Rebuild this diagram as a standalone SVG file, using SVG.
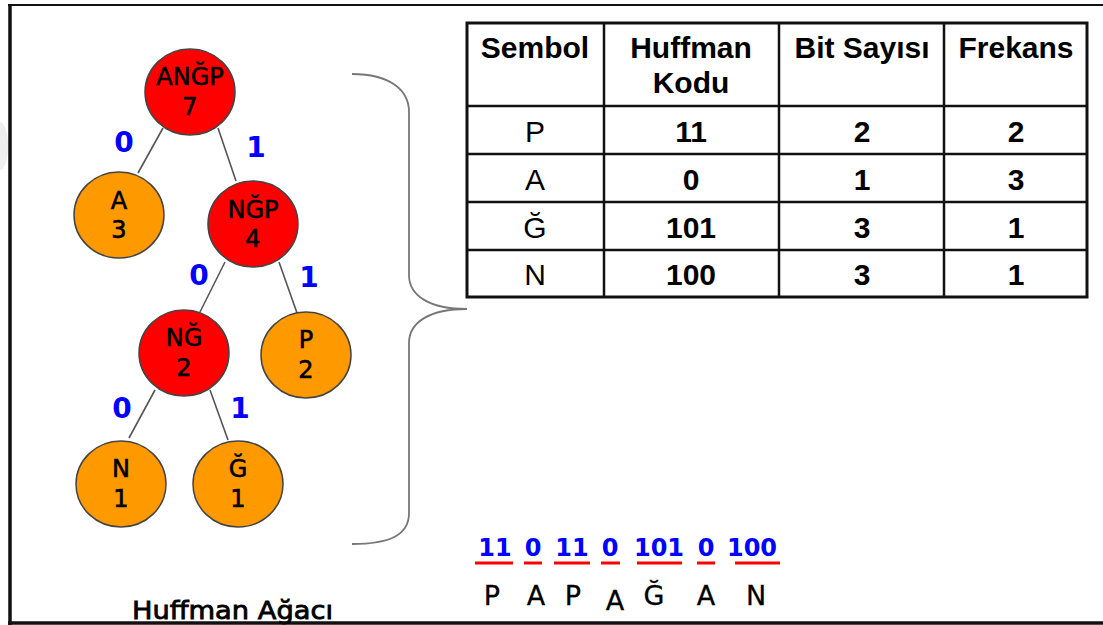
<svg xmlns="http://www.w3.org/2000/svg" width="1103" height="625" viewBox="0 0 1103 625">
  <style>
    .frame { stroke: #111; fill: none; }
    .edge { stroke: #555; stroke-width: 1.6; fill: none; }
    .inner { fill: #ff0000; stroke: #444; stroke-width: 1.5; }
    .leaf { fill: #ff9900; stroke: #444; stroke-width: 1.5; }
    .nlabel { font-family: "DejaVu Sans", sans-serif; font-size: 24px; fill: #000; stroke: #000; stroke-width: 0.6; text-anchor: middle; }
    .bit { font-family: "DejaVu Sans", sans-serif; font-weight: bold; font-size: 28px; fill: #0000ff; text-anchor: middle; }
    .cell { font-family: "Liberation Sans", Arial, sans-serif; font-size: 30px; fill: #000; text-anchor: middle; }
    .b { font-weight: bold; }
    .grid { stroke: #111; stroke-width: 2.5; fill: none; }
    .code { font-family: "DejaVu Sans", sans-serif; font-weight: bold; font-size: 24px; fill: #0000ff; text-anchor: middle; }
    .uline { stroke: #ff0000; stroke-width: 3; }
    .sym { font-family: "DejaVu Sans", sans-serif; font-size: 27px; fill: #000; stroke: #000; stroke-width: 0.3; text-anchor: middle; }
    .caption { font-family: "DejaVu Sans", sans-serif; font-size: 24px; fill: #000; stroke: #000; stroke-width: 0.8; }
  </style>

  <rect width="1103" height="625" fill="#ffffff"/>
  <ellipse cx="0" cy="146" rx="8" ry="24" fill="#eeeeee"/>

  <!-- outer frame -->
  <g id="frame">
    <line class="frame" x1="8" y1="5" x2="1103" y2="5" stroke-width="2"/>
    <line class="frame" x1="10" y1="4" x2="10" y2="625" stroke-width="3.5"/>
    <line class="frame" x1="8" y1="623" x2="1103" y2="623" stroke-width="3.5"/>
  </g>

  <!-- tree connectors -->
  <g id="connectors">
    <line class="edge" x1="163" y1="128" x2="138" y2="173"/>
    <line class="edge" x1="218" y1="128" x2="236" y2="181"/>
    <line class="edge" x1="225" y1="262" x2="200" y2="312"/>
    <line class="edge" x1="279" y1="262" x2="297" y2="313"/>
    <line class="edge" x1="155" y1="390" x2="129" y2="438"/>
    <line class="edge" x1="210" y1="390" x2="228" y2="440"/>
    <text class="bit" x="124" y="152">0</text>
    <text class="bit" x="256" y="157">1</text>
    <text class="bit" x="199" y="285">0</text>
    <text class="bit" x="309" y="287">1</text>
    <text class="bit" x="122" y="418">0</text>
    <text class="bit" x="240" y="418">1</text>
  </g>

  <!-- tree nodes -->
  <g id="node-angp">
    <ellipse class="inner" cx="190" cy="92" rx="45" ry="43"/>
    <text class="nlabel" x="190" y="85">ANĞP</text>
    <text class="nlabel" x="190" y="115">7</text>
  </g>
  <g id="node-a">
    <ellipse class="leaf" cx="119" cy="215" rx="45" ry="43"/>
    <text class="nlabel" x="119" y="209">A</text>
    <text class="nlabel" x="119" y="238">3</text>
  </g>
  <g id="node-ngp">
    <ellipse class="inner" cx="253" cy="224" rx="45" ry="43"/>
    <text class="nlabel" x="253" y="218">NĞP</text>
    <text class="nlabel" x="253" y="247">4</text>
  </g>
  <g id="node-ng">
    <ellipse class="inner" cx="184" cy="353" rx="45" ry="43"/>
    <text class="nlabel" x="184" y="346">NĞ</text>
    <text class="nlabel" x="184" y="376">2</text>
  </g>
  <g id="node-p">
    <ellipse class="leaf" cx="306" cy="355" rx="45" ry="43"/>
    <text class="nlabel" x="306" y="348">P</text>
    <text class="nlabel" x="306" y="378">2</text>
  </g>
  <g id="node-n">
    <ellipse class="leaf" cx="121" cy="484" rx="45" ry="43"/>
    <text class="nlabel" x="121" y="477">N</text>
    <text class="nlabel" x="121" y="507">1</text>
  </g>
  <g id="node-g">
    <ellipse class="leaf" cx="238" cy="484" rx="45" ry="43"/>
    <text class="nlabel" x="238" y="477">Ğ</text>
    <text class="nlabel" x="238" y="507">1</text>
  </g>

  <text id="caption" class="caption" x="132" y="619" textLength="201" lengthAdjust="spacingAndGlyphs">Huffman Ağacı</text>

  <!-- curly brace -->
  <path id="brace" d="M352,74 C390,74 409,90 409,112 L409,275 C409,296 430,309 467,309 C430,309 409,322 409,343 L409,513 C409,535 390,544 352,544" fill="none" stroke="#777" stroke-width="1.8"/>

  <!-- code table -->
  <g id="table">
    <rect x="467" y="23" width="620" height="274" fill="#fff" stroke="#111" stroke-width="3"/>
    <line class="grid" x1="604" y1="23" x2="604" y2="297"/>
    <line class="grid" x1="779" y1="23" x2="779" y2="297"/>
    <line class="grid" x1="944" y1="23" x2="944" y2="297"/>
    <line class="grid" x1="467" y1="106" x2="1087" y2="106"/>
    <line class="grid" x1="467" y1="154" x2="1087" y2="154"/>
    <line class="grid" x1="467" y1="202" x2="1087" y2="202"/>
    <line class="grid" x1="467" y1="250" x2="1087" y2="250"/>

    <text class="cell b" x="535" y="58">Sembol</text>
    <text class="cell b" x="691" y="58">Huffman</text>
    <text class="cell b" x="691" y="93">Kodu</text>
    <text class="cell b" x="862" y="58">Bit Sayısı</text>
    <text class="cell b" x="1016" y="58">Frekans</text>

    <text class="cell" x="535" y="142">P</text>
    <text class="cell b" x="691" y="142">11</text>
    <text class="cell b" x="862" y="142">2</text>
    <text class="cell b" x="1016" y="142">2</text>

    <text class="cell" x="535" y="190">A</text>
    <text class="cell b" x="691" y="190">0</text>
    <text class="cell b" x="862" y="190">1</text>
    <text class="cell b" x="1016" y="190">3</text>

    <text class="cell" x="535" y="238">Ğ</text>
    <text class="cell b" x="691" y="238">101</text>
    <text class="cell b" x="862" y="238">3</text>
    <text class="cell b" x="1016" y="238">1</text>

    <text class="cell" x="535" y="285">N</text>
    <text class="cell b" x="691" y="285">100</text>
    <text class="cell b" x="862" y="285">3</text>
    <text class="cell b" x="1016" y="285">1</text>
  </g>

  <!-- encoded word -->
  <g id="encoding">
    <text class="code" x="495" y="556">11</text>
    <text class="code" x="533" y="556">0</text>
    <text class="code" x="572" y="556">11</text>
    <text class="code" x="610" y="556">0</text>
    <text class="code" x="659" y="556">101</text>
    <text class="code" x="706" y="556">0</text>
    <text class="code" x="752" y="556">100</text>

    <line class="uline" x1="475" y1="563" x2="513" y2="563"/>
    <line class="uline" x1="524" y1="563" x2="542" y2="563"/>
    <line class="uline" x1="554" y1="563" x2="590" y2="563"/>
    <line class="uline" x1="601" y1="563" x2="620" y2="563"/>
    <line class="uline" x1="637" y1="563" x2="682" y2="563"/>
    <line class="uline" x1="697" y1="563" x2="715" y2="563"/>
    <line class="uline" x1="735" y1="563" x2="780" y2="563"/>

    <text class="sym" x="492" y="605">P</text>
    <text class="sym" x="536" y="605">A</text>
    <text class="sym" x="573" y="605">P</text>
    <text class="sym" x="615" y="610">A</text>
    <text class="sym" x="654" y="605">Ğ</text>
    <text class="sym" x="706" y="605">A</text>
    <text class="sym" x="756" y="605">N</text>
  </g>
</svg>
